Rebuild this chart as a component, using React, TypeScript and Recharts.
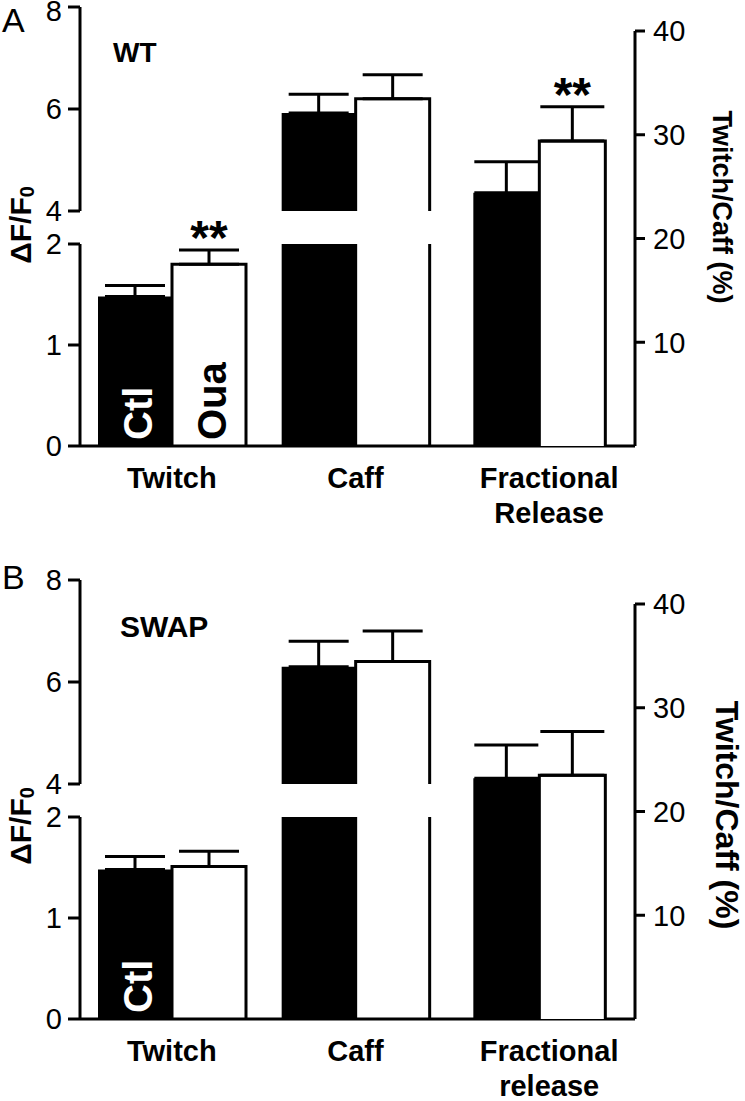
import { BarChart, Bar, XAxis, YAxis, ErrorBar, LabelList } from "recharts";

const FONT = "'Liberation Sans', Arial, Helvetica, sans-serif";
const W = 745;
const CH = 580; // chart height
const OY = 20; // charts start this far above the panel top so the top tick label is not cut

// categories on the x axis (Fractional release is plotted against the right axis)
const wtCategories = ["Twitch", "Caff", "Fractional\nRelease"];
const swapCategories = ["Twitch", "Caff", "Fractional\nrelease"];

// WT panel
const wtCtl = [1.48, 5.92, 24.4];
const wtCtlErr = [0.11, 0.37, 3.0];
const wtOua = [1.8, 6.2, 29.4];
const wtOuaErr = [0.14, 0.47, 3.3];
const wtSig = ["**", "", "**"];
const wtCtlTags = ["Ctl", "", ""];
const wtOuaTags = ["Oua", "", ""];

// SWAP panel
const swapCtl = [1.48, 6.3, 23.2];
const swapCtlErr = [0.13, 0.5, 3.2];
const swapOua = [1.51, 6.4, 23.5];
const swapOuaErr = [0.15, 0.6, 4.2];
const swapSig = ["", "", ""];
const swapCtlTags = ["Ctl", "", ""];
const swapOuaTags = ["", "", ""];

// broken left axis (dF/F0) and right axis (Twitch/Caff %)
const lowerDomain: [number, number] = [0, 2];
const upperDomain: [number, number] = [4, 8];
const ratioDomain: [number, number] = [0, 40];
const lowerTicks = [0, 1, 2];
const upperTicks = [4, 6, 8];
const ratioTicks = [10, 20, 30, 40];
const ratioIndex = 2;

type Series = {
  cats: string[];
  ctl: number[];
  ctlErr: number[];
  oua: number[];
  ouaErr: number[];
  sig: string[];
  ctlTags: string[];
  ouaTags: string[];
};

type Row = {
  name: string;
  ctl?: number;
  oua?: number;
  ctlErr?: [number, number];
  ouaErr?: [number, number];
  ouaErrValue?: number;
  sig?: string;
  ctlTag?: string;
  ouaTag?: string;
};

function lowerRows(s: Series): Row[] {
  return s.cats.map((name, i) => {
    if (i === ratioIndex) return { name };
    const showErr = s.oua[i] <= lowerDomain[1];
    return {
      name,
      ctl: s.ctl[i],
      oua: s.oua[i],
      ctlErr: s.ctl[i] <= lowerDomain[1] ? [0, s.ctlErr[i]] : undefined,
      ouaErr: showErr ? [0, s.ouaErr[i]] : undefined,
      ouaErrValue: s.ouaErr[i],
      sig: showErr ? s.sig[i] : "",
      ctlTag: s.ctlTags[i],
      ouaTag: s.ouaTags[i],
    };
  });
}

function upperRows(s: Series): Row[] {
  return s.cats.map((name, i) => {
    if (i === ratioIndex || s.ctl[i] < upperDomain[0]) return { name };
    return {
      name,
      ctl: s.ctl[i],
      oua: s.oua[i],
      ctlErr: [0, s.ctlErr[i]],
      ouaErr: [0, s.ouaErr[i]],
      ouaErrValue: s.ouaErr[i],
      sig: s.sig[i],
    };
  });
}

function ratioRows(s: Series): Row[] {
  return s.cats.map((name, i) => {
    if (i !== ratioIndex) return { name };
    return {
      name,
      ctl: s.ctl[i],
      oua: s.oua[i],
      ctlErr: [0, s.ctlErr[i]],
      ouaErr: [0, s.ouaErr[i]],
      ouaErrValue: s.ouaErr[i],
      sig: s.sig[i],
    };
  });
}

const axisLine = { stroke: "#000", strokeWidth: 3 };
const tickLine = { stroke: "#000", strokeWidth: 3 };

// numeric tick; minY keeps the top label inside the picture
const NumberTick = (props: any) => {
  const { x, y, payload, textAnchor, minY = 0 } = props;
  return (
    <text
      x={x}
      y={Math.max(y, minY)}
      dy="0.355em"
      textAnchor={textAnchor}
      fontFamily={FONT}
      fontSize={29}
      fill="#000"
    >
      {payload.value}
    </text>
  );
};

// white bar: outlined on three sides, open at the bottom
const OpenBar = (props: any) => {
  const { x, y, width, height } = props;
  if (x == null || y == null || !width || !height) return null;
  const bottom = y + height;
  return (
    <g>
      <rect x={x} y={y} width={width} height={height} fill="#fff" />
      <path
        d={`M${x},${bottom} L${x},${y} L${x + width},${y} L${x + width},${bottom}`}
        fill="none"
        stroke="#000"
        strokeWidth={3}
      />
    </g>
  );
};

const boxOf = (props: any) => {
  const vb = props.viewBox ?? props;
  return { x: vb.x, y: vb.y, width: vb.width, height: vb.height };
};

const makeTag = (color: string) => (props: any) => {
  if (!props.value) return null;
  const { x, y, width, height } = boxOf(props);
  const cx = x + width / 2 + 17;
  const by = y + height - 6;
  return (
    <text
      transform={`translate(${cx},${by}) rotate(-90)`}
      fill={color}
      fontFamily={FONT}
      fontWeight="bold"
      fontSize={40}
      textAnchor="start"
    >
      {props.value}
    </text>
  );
};

// significance stars sit above the error bar cap; the label value is the whole row
const renderStars = (props: any) => {
  const row: Row | undefined = props.value;
  if (!row || !row.sig || row.oua == null) return null;
  const { x, y, width, height } = boxOf(props);
  const pxPerUnit = height / row.oua;
  const capY = y - (row.ouaErrValue ?? 0) * pxPerUnit;
  return (
    <text
      x={x + width / 2}
      y={capY + 4}
      textAnchor="middle"
      fontFamily={FONT}
      fontWeight="bold"
      fontSize={48}
      fill="#000"
    >
      {row.sig}
    </text>
  );
};

const rowAccessor = (row: Row) => row;

const CategoryTick = (props: any) => {
  const { x, y, payload } = props;
  const lines = String(payload.value).split("\n");
  const cx = x + (lines.length > 1 ? 10 : 0);
  return (
    <text
      x={cx}
      y={y}
      textAnchor="middle"
      fontFamily={FONT}
      fontWeight="bold"
      fontSize={29}
      fill="#000"
    >
      {lines.map((line, i) => (
        <tspan key={i} x={cx} dy={i === 0 ? 42 : 35}>
          {line}
        </tspan>
      ))}
    </text>
  );
};

type PanelProps = {
  series: Series;
  top: number;
  letter: string;
  letterY: number;
  title: string;
  titleX: number;
  titleY: number;
  titleSize: number;
  yLabelY: number;
  rightLabelX: number;
  rightLabelY: number;
  rightLabelSize: number;
};

function Panel(p: PanelProps) {
  const lower = lowerRows(p.series);
  const upper = upperRows(p.series);
  const ratio = ratioRows(p.series);
  const abs = { position: "absolute" as const, left: 0, top: -OY };
  const xPad = { left: 0, right: 4 };
  const plotBottom = 446 + OY;
  const topLabelMin = p.top === 0 ? OY + 11 : 0;

  return (
    <div style={{ position: "absolute", left: 0, top: p.top, width: W, height: CH - OY }}>
      {/* lower segment of dF/F0 axis: 0-2 */}
      <div style={abs}>
        <BarChart
          width={W}
          height={CH}
          data={lower}
          margin={{ top: 244 + OY, right: 110, bottom: 0, left: 0 }}
          barGap={0}
        >
          <XAxis
            dataKey="name"
            type="category"
            height={CH - plotBottom}
            padding={xPad}
            axisLine={axisLine}
            tickLine={false}
            tickSize={0}
            tickMargin={0}
            interval={0}
            tick={<CategoryTick />}
          />
          <YAxis
            type="number"
            domain={lowerDomain}
            ticks={lowerTicks}
            allowDataOverflow
            interval={0}
            width={80}
            tickSize={12}
            tickMargin={6}
            axisLine={axisLine}
            tickLine={tickLine}
            tick={<NumberTick />}
          />
          <Bar dataKey="ctl" fill="#000" barSize={74} isAnimationActive={false}>
            <ErrorBar dataKey="ctlErr" width={30} strokeWidth={3} stroke="#000" direction="y" />
            <LabelList dataKey="ctlTag" content={makeTag("#fff")} />
          </Bar>
          <Bar dataKey="oua" shape={OpenBar} barSize={74} isAnimationActive={false}>
            <ErrorBar dataKey="ouaErr" width={30} strokeWidth={3} stroke="#000" direction="y" />
            <LabelList dataKey="ouaTag" content={makeTag("#000")} />
            <LabelList dataKey={rowAccessor} content={renderStars} />
          </Bar>
        </BarChart>
      </div>

      {/* upper segment of dF/F0 axis: 4-8 */}
      <div style={abs}>
        <BarChart
          width={W}
          height={CH}
          data={upper}
          margin={{ top: 7 + OY, right: 110, bottom: CH - (211 + OY), left: 0 }}
          barGap={0}
        >
          <XAxis dataKey="name" type="category" hide padding={xPad} />
          <YAxis
            type="number"
            domain={upperDomain}
            ticks={upperTicks}
            allowDataOverflow
            interval={0}
            width={80}
            tickSize={12}
            tickMargin={6}
            axisLine={axisLine}
            tickLine={tickLine}
            tick={<NumberTick minY={topLabelMin} />}
          />
          <Bar dataKey="ctl" fill="#000" barSize={74} isAnimationActive={false}>
            <ErrorBar dataKey="ctlErr" width={30} strokeWidth={3} stroke="#000" direction="y" />
          </Bar>
          <Bar dataKey="oua" shape={OpenBar} barSize={74} isAnimationActive={false}>
            <ErrorBar dataKey="ouaErr" width={30} strokeWidth={3} stroke="#000" direction="y" />
            <LabelList dataKey={rowAccessor} content={renderStars} />
          </Bar>
        </BarChart>
      </div>

      {/* right axis: Twitch/Caff (%) */}
      <div style={abs}>
        <BarChart
          width={W}
          height={CH}
          data={ratio}
          margin={{ top: 31 + OY, right: 0, bottom: CH - plotBottom, left: 80 }}
          barGap={0}
        >
          <XAxis dataKey="name" type="category" hide padding={xPad} />
          <YAxis
            orientation="right"
            type="number"
            domain={ratioDomain}
            ticks={ratioTicks}
            allowDataOverflow
            interval={0}
            width={110}
            tickSize={10}
            tickMargin={8}
            axisLine={axisLine}
            tickLine={tickLine}
            tick={<NumberTick />}
          />
          <Bar dataKey="ctl" fill="#000" barSize={66} isAnimationActive={false}>
            <ErrorBar dataKey="ctlErr" width={32} strokeWidth={3} stroke="#000" direction="y" />
          </Bar>
          <Bar dataKey="oua" shape={OpenBar} barSize={66} isAnimationActive={false}>
            <ErrorBar dataKey="ouaErr" width={32} strokeWidth={3} stroke="#000" direction="y" />
            <LabelList dataKey={rowAccessor} content={renderStars} />
          </Bar>
        </BarChart>
      </div>

      {/* panel texts */}
      <svg style={{ position: "absolute", left: 0, top: 0, overflow: "visible" }} width={W} height={CH - OY}>
        <text x={2} y={p.letterY} fontFamily={FONT} fontSize={34} fill="#000">
          {p.letter}
        </text>
        <text x={p.titleX} y={p.titleY} fontFamily={FONT} fontWeight="bold" fontSize={p.titleSize} fill="#000">
          {p.title}
        </text>
        <text
          transform={`translate(20,${p.yLabelY}) rotate(-90)`}
          textAnchor="middle"
          dominantBaseline="central"
          fontFamily={FONT}
          fontWeight="bold"
          fontSize={30}
          fill="#000"
        >
          ΔF/F
          <tspan fontSize={20} dy={7}>
            0
          </tspan>
        </text>
        <text
          transform={`translate(${p.rightLabelX},${p.rightLabelY}) rotate(90)`}
          textAnchor="middle"
          dominantBaseline="central"
          fontFamily={FONT}
          fontWeight="bold"
          fontSize={p.rightLabelSize}
          fill="#000"
        >
          Twitch/Caff (%)
        </text>
      </svg>
    </div>
  );
}

const wtSeries: Series = {
  cats: wtCategories,
  ctl: wtCtl,
  ctlErr: wtCtlErr,
  oua: wtOua,
  ouaErr: wtOuaErr,
  sig: wtSig,
  ctlTags: wtCtlTags,
  ouaTags: wtOuaTags,
};

const swapSeries: Series = {
  cats: swapCategories,
  ctl: swapCtl,
  ctlErr: swapCtlErr,
  oua: swapOua,
  ouaErr: swapOuaErr,
  sig: swapSig,
  ctlTags: swapCtlTags,
  ouaTags: swapOuaTags,
};

export default function App() {
  return (
    <div
      style={{
        position: "absolute",
        left: 0,
        top: 0,
        width: W,
        height: 1101,
        background: "#fff",
        overflow: "hidden",
      }}
    >
      <Panel
        series={wtSeries}
        top={0}
        letter="A"
        letterY={32}
        title="WT"
        titleX={113}
        titleY={62}
        titleSize={28}
        yLabelY={225}
        rightLabelX={722}
        rightLabelY={207}
        rightLabelSize={27}
      />
      <Panel
        series={swapSeries}
        top={573}
        letter="B"
        letterY={16}
        title="SWAP"
        titleX={120}
        titleY={64}
        titleSize={30}
        yLabelY={253}
        rightLabelX={727}
        rightLabelY={242}
        rightLabelSize={32}
      />
    </div>
  );
}
